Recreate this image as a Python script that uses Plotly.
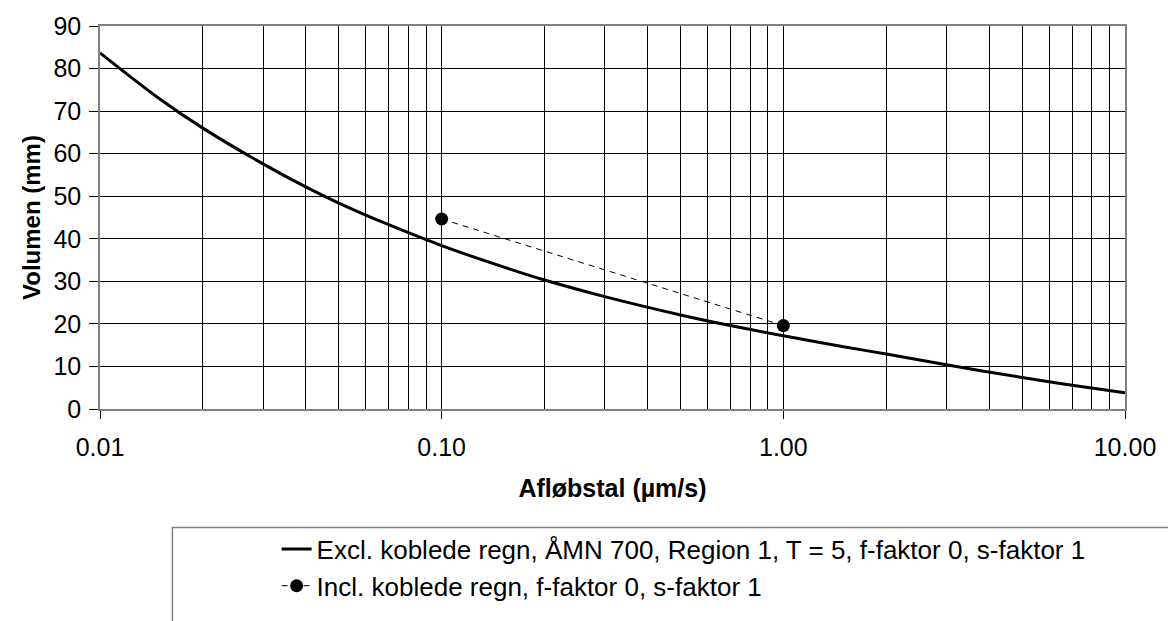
import plotly.graph_objects as go

# Data
excl_x = [0.01, 0.015, 0.02, 0.03, 0.04, 0.05, 0.07, 0.1, 0.15, 0.2, 0.3, 0.5, 0.7,
          1.0, 1.5, 2.0, 3.0, 5.0, 7.0, 10.0]
excl_y = [83.7, 72.8, 66.0, 57.6, 52.2, 48.4, 43.3, 38.4, 33.5, 30.3, 26.4, 22.1, 19.6,
          17.2, 14.65, 12.9, 10.4, 7.4, 5.6, 3.8]
incl_x = [0.1, 1.0]
incl_y = [44.65, 19.6]

x_tickvals = [0.01, 0.1, 1, 10]
x_ticktext = ["0.01", "0.10", "1.00", "10.00"]
x_minor = [m * d for d in [0.01, 0.1, 1] for m in range(2, 10)]
y_tickvals = [0, 10, 20, 30, 40, 50, 60, 70, 80, 90]

excl_name = "Excl. koblede regn, ÅMN 700, Region 1, T = 5, f-faktor 0, s-faktor 1"
incl_name = "Incl. koblede regn, f-faktor 0, s-faktor 1"

FONT = "Liberation Sans, Arial, sans-serif"

fig = go.Figure()
fig.add_trace(go.Scatter(
    x=excl_x, y=excl_y, mode="lines", name=excl_name,
    line=dict(color="black", width=3, shape="spline", smoothing=1.0),
))
fig.add_trace(go.Scatter(
    x=incl_x, y=incl_y, mode="lines+markers", name=incl_name,
    line=dict(color="black", width=1, dash="6px,5px"),
    marker=dict(color="black", size=13),
))

W, H = 1168, 621
ml, mr, mt, mb = 100, 35, 25, 195
pw = W - ml - mr
ph = H - mt - mb

def px_to_paper_x(px):
    return (px - ml) / pw

def px_to_paper_y(py):
    return (H - mb - py) / ph

fig.add_shape(type="rect", xref="paper", yref="paper",
              x0=px_to_paper_x(173), x1=px_to_paper_x(1200),
              y0=px_to_paper_y(660), y1=px_to_paper_y(550),
              line=dict(color="#808080", width=1.5), fillcolor="rgba(0,0,0,0)", layer="above")

fig.update_layout(
    width=W, height=H,
    margin=dict(l=ml, r=mr, t=mt, b=mb, pad=0),
    paper_bgcolor="white", plot_bgcolor="white",
    font=dict(family=FONT, size=25, color="black"),
    showlegend=True,
    legend=dict(
        x=px_to_paper_x(278), xanchor="left",
        y=px_to_paper_y(548), yanchor="top",
        bgcolor="rgba(0,0,0,0)", borderwidth=0,
        font=dict(family=FONT, size=26, color="black"),
        tracegroupgap=0,
    ),
    xaxis=dict(
        type="log", range=[-2, 1],
        tickvals=x_tickvals, ticktext=x_ticktext,
        ticks="outside", ticklen=8, tickcolor="black",
        showgrid=True, gridcolor="black", gridwidth=1,
        minor=dict(tickvals=x_minor, showgrid=True, gridcolor="black", gridwidth=1, ticks=""),
        showline=True, linecolor="#808080", linewidth=1.5, mirror=True,
        zeroline=False,
        tickfont=dict(family=FONT, size=25),
        ticklabelstandoff=7,
        title=dict(text="<b>Afløbstal (µm/s)</b>", font=dict(family=FONT, size=25), standoff=20),
    ),
    yaxis=dict(
        range=[0, 90], tickvals=y_tickvals,
        ticks="outside", ticklen=9, tickcolor="black",
        showgrid=True, gridcolor="black", gridwidth=1,
        showline=True, linecolor="#808080", linewidth=1.5, mirror=True,
        zeroline=False,
        tickfont=dict(family=FONT, size=25),
        ticklabelstandoff=3,
        title=dict(text="<b>Volumen (mm)</b>", font=dict(family=FONT, size=24), standoff=6),
    ),
)

fig.write_html("out.html")
